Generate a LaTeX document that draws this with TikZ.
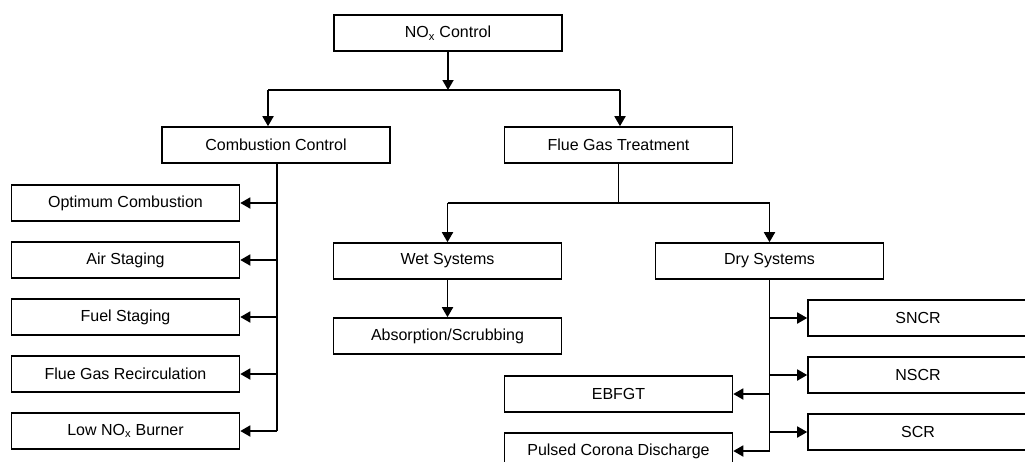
\documentclass[tikz,border=0pt]{standalone}
\usepackage{fontspec}
\setmainfont{Liberation Sans}
\usetikzlibrary{arrows.meta}
\begin{document}
\begin{tikzpicture}[x=1pt,y=-1pt,
  box/.style={draw,line width=1.6pt,inner sep=0pt,minimum height=36pt,font=\fontsize{16}{18}\selectfont},
  wbox/.style={box,minimum width=228pt},
  conn/.style={line width=1.8pt},
  arr/.style={conn,-{Triangle[length=10pt,width=11pt]}}]
\useasboundingbox (0,0) rectangle (1025,461);
\clip (0,0) rectangle (1025,461);
\fill[white] (0,0) rectangle (1025,461);
% nodes
\node[wbox] (nox) at (448,33) {NO\textsubscript{x} Control};
\node[wbox] (cc) at (276,145) {Combustion Control};
\node[wbox] (fgt) at (618.5,145) {Flue Gas Treatment};
\node[wbox] (opt) at (125.5,203) {Optimum Combustion};
\node[wbox] (air) at (125.5,260) {Air Staging};
\node[wbox] (fuel) at (125.5,317) {Fuel Staging};
\node[wbox] (fgr) at (125.5,374) {Flue Gas Recirculation};
\node[wbox] (low) at (125.5,431) {Low NO\textsubscript{x} Burner};
\node[wbox] (wet) at (447.5,261) {Wet Systems};
\node[wbox] (dry) at (769.5,261) {Dry Systems};
\node[wbox] (abs) at (447.5,336) {Absorption/Scrubbing};
\node[box,minimum width=232pt] (sncr) at (924,318) {\hspace*{-12pt}SNCR};
\node[box,minimum width=232pt] (nscr) at (924,375) {\hspace*{-12pt}NSCR};
\node[box,minimum width=232pt] (scr) at (924,432) {\hspace*{-12pt}SCR};
\node[wbox] (ebf) at (618.5,394) {EBFGT};
\node[wbox] (pcd) at (618.5,451) {\raisebox{-0pt}{Pulsed Corona Discharge}};
% junction coordinates
\coordinate (j0) at (448,90);
\coordinate (jl) at (268,90);
\coordinate (jr) at (620,90);
\coordinate (f0) at (618.5,203);
\coordinate (fl) at (447.5,203);
\coordinate (fr) at (769.5,203);
\coordinate (cx) at (277,163);
\coordinate (dx) at (769.5,279);
% connectors
\draw[arr] (nox.south) -- (j0);
\draw[conn] (jl) -- (jr);
\draw[arr] (jl) -- (jl |- cc.north);
\draw[arr] (jr) -- (jr |- fgt.north);
\draw[conn] (cx) -- (cx |- low.east);
\foreach \n in {opt,air,fuel,fgr,low} \draw[arr] (cx |- \n.east) -- (\n.east);
\draw[conn] (fgt.south) -- (f0);
\draw[conn] (fl) -- (fr);
\draw[arr] (fl) -- (wet.north);
\draw[arr] (fr) -- (dry.north);
\draw[arr] (wet.south) -- (abs.north);
\draw[conn] (dry.south) -- (dx |- pcd.east);
\foreach \n in {sncr,nscr,scr} \draw[arr] (dx |- \n.west) -- (\n.west);
\foreach \n in {ebf,pcd} \draw[arr] (dx |- \n.east) -- (\n.east);
\end{tikzpicture}
\end{document}
